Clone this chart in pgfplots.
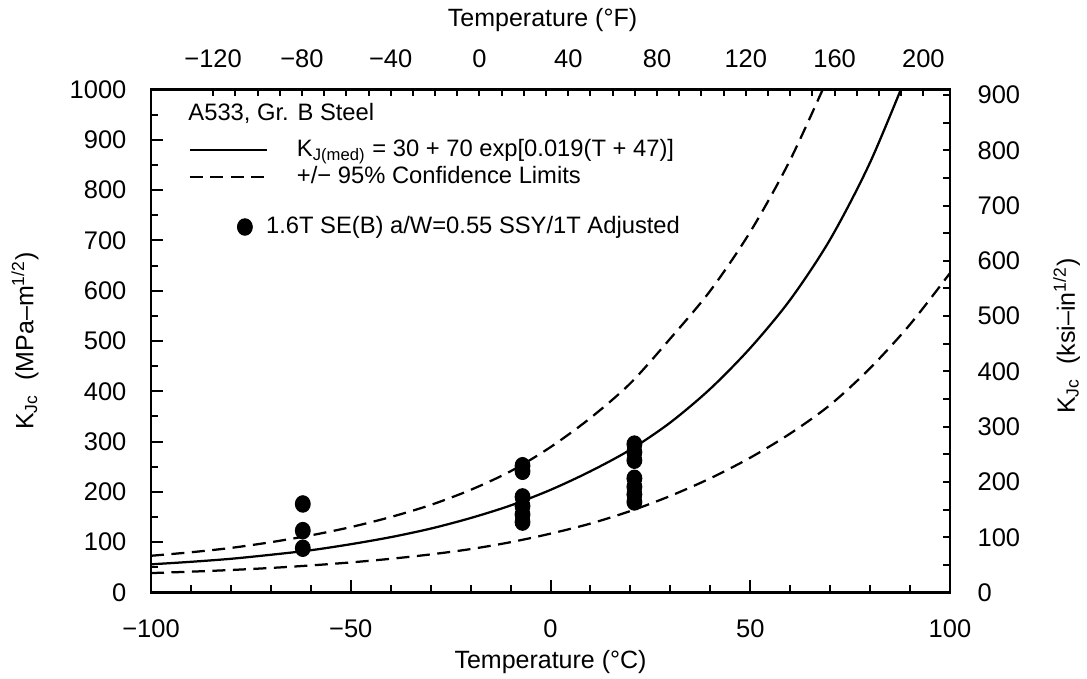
\documentclass[border=0pt]{standalone}
\usepackage{fontspec}
\setmainfont{Liberation Sans}
\usepackage{pgfplots}
\pgfplotsset{compat=1.18}
\begin{document}
\begin{tikzpicture}
\pgfplotsset{
  every tick/.style={black, line width=0.8pt},
  tick label style={font=\fontsize{10.2}{12}\selectfont},
  label style={font=\fontsize{10}{12}\selectfont},
}
\begin{axis}[
  scale only axis, width=319.6pt, height=201.2pt,
  xmin=-100, xmax=100, ymin=0, ymax=1000,
  xtick={-100,-50,0,50,100}, xticklabels={−100,−50,0,50,100},
  minor x tick num=4,
  ytick={0,100,...,1000}, yticklabels={0,100,200,300,400,500,600,700,800,900,1000},
  minor y tick num=1,
  xtick pos=bottom, ytick pos=left,
  tick align=inside,
  major tick length=4.8pt, minor tick length=2.8pt,
  axis line style={line width=1pt},
  xticklabel style={yshift=-7.3pt},
  yticklabel style={xshift=-6.3pt},
  xlabel={Temperature (°C)},
  xlabel style={at={(axis description cs:0.5,-0.138)}, anchor=center},
  ylabel={K\textsubscript{Jc}\ \ (MPa–m\textsuperscript{1/2})},
  ylabel style={at={(axis description cs:-0.1577,0.5)}, anchor=center},
  legend style={at={(axis description cs:0.0463,0.853)}, anchor=west, draw=none, fill=none,
    inner sep=0pt, row sep=0.8pt, font=\fontsize{9.5}{11}\selectfont,
    nodes={inner sep=0.5pt, text height=7pt, text depth=2pt},
    /tikz/every odd column/.append style={column sep=11pt}},
  legend cell align=left,
  legend image code/.code={\draw[#1] (0pt,0pt) -- (31pt,0pt);},
]
\coordinate (BL) at (rel axis cs:-0.18898,-0.17197);
\coordinate (TR) at (rel axis cs:1.17146,1.17793);
\node[anchor=west, font=\fontsize{9.5}{11}\selectfont, inner sep=0pt] at (rel axis cs:0.0463,0.953) {A533, Gr. B Steel};
\addplot[black, line width=0.9pt, smooth] coordinates {
(-100,56) (-90,61) (-80,67) (-70,75) (-60,84) (-50,96) (-40,110) (-30,127)
(-20,148) (-10,173) (0,204) (10,241) (20,284) (30,338) (40,405) (50,486)
(60,582) (70,702) (80,855) (90,1045)};
\addlegendentry{K\textsubscript{J(med)} = 30 + 70 exp[0.019(T + 47)]}
\addplot[black, line width=0.9pt, smooth, dash pattern=on 5.2pt off 3pt] coordinates {
(-100,73) (-90,80) (-80,88.6) (-70,100) (-60,113.6) (-50,130) (-40,150) (-30,174)
(-20,204) (-10,241) (0,289) (10,347) (20,416) (30,505) (40,600) (50,717)
(60,860) (70,1033)};
\addlegendentry{+/− 95\% Confidence Limits}
\addplot[black, line width=0.9pt, smooth, dash pattern=on 5.2pt off 3pt, forget plot] coordinates {
(-100,38.6) (-90,41.4) (-80,44.7) (-70,48.8) (-60,53.8) (-50,59.8) (-40,67) (-30,75.7)
(-20,86.3) (-10,100) (0,117) (10,137) (20,162) (30,192) (40,227) (50,268)
(60,316) (70,373) (80,446) (90,533) (100,635)};
\addplot[only marks, mark=*, mark size=3.3pt, mark options={xscale=0.9}, black, forget plot] coordinates {
(-62,88) (-62,123) (-62,176)
(-7,140) (-7,155) (-7,172) (-7,190) (-7,241) (-7,252)
(21,180) (21,195) (21,210) (21,227) (21,263) (21,279) (21,295)};
\end{axis}
\begin{axis}[
  scale only axis, width=319.6pt, height=201.2pt,
  xmin=-148, xmax=212, ymin=0, ymax=910.07,
  axis x line=top, axis y line=right,
  axis line style={-, line width=1pt},
  tick align=inside,
  major tick length=2.8pt, minor tick length=2.8pt,
  xtick={-120,-80,...,200}, xticklabels={−120,−80,−40,0,40,80,120,160,200},
  minor x tick num=3,
  ytick={0,100,...,900}, yticklabels={0,100,200,300,400,500,600,700,800,900},
  minor y tick num=1,
  xticklabel style={yshift=5.3pt},
  yticklabel style={xshift=7.5pt},
  xlabel={Temperature (°F)},
  xlabel style={at={(axis description cs:0.49,1.138)}, anchor=center},
  ylabel={K\textsubscript{Jc}\ \ (ksi–in\textsuperscript{1/2})},
  ylabel style={at={(axis description cs:1.146,0.51)}, anchor=center},
  legend style={at={(axis description cs:0.1076,0.7266)}, anchor=west, draw=none, fill=none,
    inner sep=0pt, font=\fontsize{9.5}{11}\selectfont,
    nodes={inner sep=0.5pt},
    /tikz/every odd column/.append style={column sep=5pt}},
  legend image code/.code={\draw[#1] plot coordinates {(3.2pt,0pt)};},
]
\addlegendimage{only marks, mark=*, mark size=3.3pt, mark options={xscale=0.9}, black}
\addlegendentry{1.6T SE(B) a/W=0.55 SSY/1T Adjusted}
\end{axis}
\pgfresetboundingbox
\path[use as bounding box] (BL) rectangle (TR);
\end{tikzpicture}
\end{document}
